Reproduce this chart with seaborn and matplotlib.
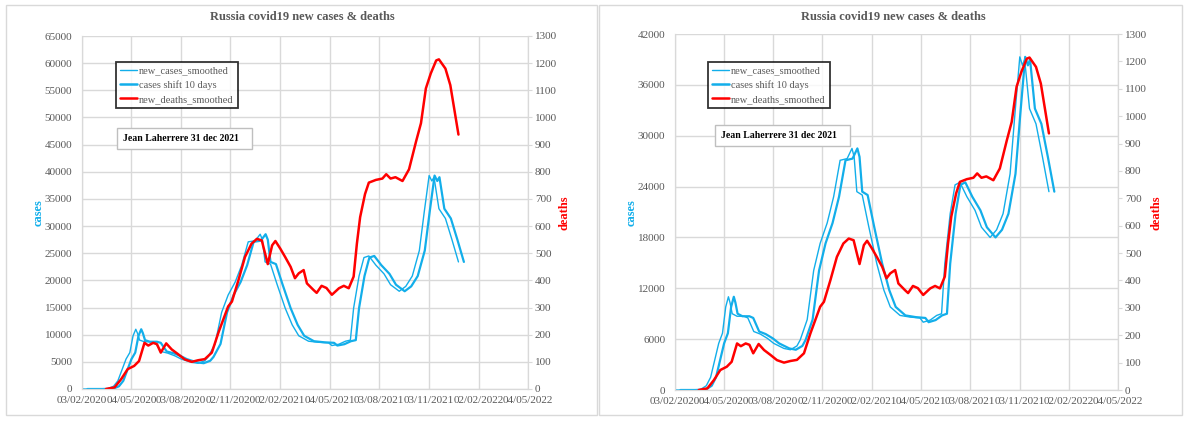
import pandas as pd
import numpy as np
import matplotlib
matplotlib.use("Agg")
import matplotlib.pyplot as plt
import matplotlib.dates as mdates
from matplotlib.patches import Rectangle
from matplotlib.lines import Line2D
import seaborn as sns

# values
case_dates = ["2020-02-03", "2020-03-01", "2020-03-21", "2020-04-01", "2020-04-09", "2020-04-18",
              "2020-04-24", "2020-05-01", "2020-05-07", "2020-05-12", "2020-05-15", "2020-05-19",
              "2020-05-28", "2020-06-10", "2020-06-17", "2020-06-28", "2020-07-10", "2020-07-23",
              "2020-08-04", "2020-08-23", "2020-09-04", "2020-09-16", "2020-09-22", "2020-10-05",
              "2020-10-17", "2020-10-29", "2020-11-11", "2020-11-23", "2020-12-05", "2020-12-18",
              "2020-12-27", "2020-12-31", "2021-01-05", "2021-01-15", "2021-01-27", "2021-02-11",
              "2021-02-24", "2021-03-08", "2021-03-26", "2021-04-14", "2021-05-02", "2021-05-08",
              "2021-05-21", "2021-06-02", "2021-06-11", "2021-06-17", "2021-06-27", "2021-07-06",
              "2021-07-15", "2021-07-28", "2021-08-12", "2021-08-24", "2021-09-09", "2021-09-21",
              "2021-10-03", "2021-10-16", "2021-10-25", "2021-11-03", "2021-11-08", "2021-11-12",
              "2021-11-21", "2021-12-03", "2021-12-15", "2021-12-27"]
new_cases = [0, 0, 50, 500, 1500, 3900,
             5500, 6700, 9800, 11000, 10300, 9000,
             8700, 8700, 8500, 6900, 6600, 6100,
             5500, 4900, 4750, 5200, 5900, 8300,
             14100, 17300, 19700, 22800, 27100, 27300,
             28500, 27500, 23400, 23000, 19300, 14900,
             11800, 9800, 8800, 8600, 8500, 8000,
             8250, 8800, 9000, 14900, 20800, 24200,
             24500, 22800, 21200, 19200, 18000, 18900,
             20800, 25500, 32600, 39300, 38300, 39000,
             33200, 31400, 27500, 23400]

death_dates = ["2020-03-18", "2020-04-03", "2020-04-15", "2020-04-27", "2020-05-09", "2020-05-18",
               "2020-05-28", "2020-06-04", "2020-06-13", "2020-06-20", "2020-06-27", "2020-07-07",
               "2020-07-17", "2020-07-29", "2020-08-10", "2020-08-23", "2020-09-04", "2020-09-16",
               "2020-09-29", "2020-10-11", "2020-10-29", "2020-11-05", "2020-11-17", "2020-11-29",
               "2020-12-11", "2020-12-21", "2020-12-30", "2021-01-05", "2021-01-10", "2021-01-18",
               "2021-01-24", "2021-02-02", "2021-02-11", "2021-02-21", "2021-03-01", "2021-03-08",
               "2021-03-17", "2021-03-23", "2021-04-04", "2021-04-10", "2021-04-19", "2021-04-28",
               "2021-05-08", "2021-05-21", "2021-05-30", "2021-06-08", "2021-06-17", "2021-06-23",
               "2021-06-29", "2021-07-08", "2021-07-15", "2021-07-28", "2021-08-09", "2021-08-16",
               "2021-08-24", "2021-09-02", "2021-09-15", "2021-09-27", "2021-10-10", "2021-10-19",
               "2021-10-28", "2021-11-06", "2021-11-16", "2021-11-21", "2021-12-03", "2021-12-12",
               "2021-12-20", "2021-12-27"]
new_deaths = [0, 6, 36, 73, 85, 103,
              170, 160, 170, 165, 134, 168,
              146, 128, 109, 100, 106, 110,
              134, 207, 304, 322, 401, 486,
              535, 553, 547, 499, 460, 529,
              545, 517, 486, 450, 408, 426,
              438, 389, 365, 354, 380, 372,
              347, 371, 380, 371, 414, 535,
              633, 718, 760, 770, 775, 791,
              775, 780, 766, 809, 912, 979,
              1107, 1162, 1210, 1214, 1180, 1119,
              1022, 937]

shift_days = 10
tick_dates = ["2020-02-03", "2020-05-04", "2020-08-03", "2020-11-02", "2021-02-02",
              "2021-05-04", "2021-08-03", "2021-11-03", "2022-02-02", "2022-05-04"]
left_max = [65000, 42000]
left_step = [5000, 6000]

cases = pd.DataFrame({"date": pd.to_datetime(case_dates), "cases": new_cases})
shifted = cases.copy()
shifted["date"] = shifted["date"] + pd.Timedelta(days=shift_days)
deaths = pd.DataFrame({"date": pd.to_datetime(death_dates), "deaths": new_deaths})
ticks = pd.to_datetime(tick_dates)

sns.set_style("white")
plt.rcParams["font.family"] = ["Liberation Serif", "DejaVu Serif"]

W, H = 1185, 421
fig = plt.figure(figsize=(W / 100, H / 100), dpi=100)

CYAN = "#12AEEA"
RED = "#FF0000"
GRAY = "#595959"
GRID = "#d9d9d9"

# panel frames
for x0, x1 in [(6, 597), (599, 1182)]:
    fig.patches.append(Rectangle((x0 / W, 1 - 415 / H), (x1 - x0) / W, 410 / H,
                                 transform=fig.transFigure, fill=False,
                                 edgecolor=GRID, linewidth=1))

panels = [
    dict(box=(82, 36, 528, 389), title_x=302, cases_x=39, deaths_x=564,
         legend=(116, 62), note=(117, 128, 252, 149)),
    dict(box=(675, 34, 1118, 390), title_x=893, cases_x=632, deaths_x=1156,
         legend=(708, 62), note=(715, 125, 850, 146)),
]

for i, p in enumerate(panels):
    x0, y0, x1, y1 = p["box"]
    ax = fig.add_axes([x0 / W, 1 - y1 / H, (x1 - x0) / W, (y1 - y0) / H])
    ax2 = ax.twinx()

    sns.lineplot(data=cases, x="date", y="cases", ax=ax, color=CYAN, linewidth=1.0, legend=False)
    sns.lineplot(data=shifted, x="date", y="cases", ax=ax, color=CYAN, linewidth=1.6, legend=False)
    sns.lineplot(data=deaths, x="date", y="deaths", ax=ax2, color=RED, linewidth=1.8, legend=False)

    ax.set_xlim(ticks[0], ticks[-1])
    ax.set_ylim(0, left_max[i])
    ax.set_yticks(np.arange(0, left_max[i] + 1, left_step[i]))
    ax2.set_ylim(0, 1300)
    ax2.set_yticks(np.arange(0, 1301, 100))
    ax.set_xticks(ticks)
    ax.xaxis.set_major_formatter(mdates.DateFormatter("%d/%m/%Y"))

    ax.grid(True, color=GRID, linewidth=1)
    ax.set_axisbelow(True)
    ax.set_xlabel("")
    ax.set_ylabel("")
    ax2.set_ylabel("")
    for a in (ax, ax2):
        for s in a.spines.values():
            s.set_color(GRID)
        a.spines["top"].set_visible(False)
    ax.tick_params(axis="both", length=0, labelsize=8, labelcolor=GRAY)
    ax.tick_params(axis="y", pad=7)
    ax.tick_params(axis="x", pad=5)
    ax2.tick_params(axis="y", length=3, color=GRID, labelsize=8, labelcolor=GRAY, pad=2)

    fig.text(p["title_x"] / W, 1 - 17 / H, "Russia covid19 new cases & deaths",
             ha="center", va="center", fontsize=9, fontweight="bold", color=GRAY)
    fig.text(p["cases_x"] / W, 1 - 213 / H, "cases", rotation=90, ha="center", va="center",
             fontsize=9, fontweight="bold", color=CYAN)
    fig.text(p["deaths_x"] / W, 1 - 213 / H, "deaths", rotation=90, ha="center", va="center",
             fontsize=9, fontweight="bold", color=RED)

    handles = [Line2D([], [], color=CYAN, linewidth=1.0),
               Line2D([], [], color=CYAN, linewidth=1.8),
               Line2D([], [], color=RED, linewidth=1.8)]
    leg = fig.legend(handles, ["new_cases_smoothed", "cases shift 10 days", "new_deaths_smoothed"],
                     loc="upper left", bbox_to_anchor=(p["legend"][0] / W, 1 - p["legend"][1] / H),
                     fontsize=7.5, frameon=True, fancybox=False, handlelength=1.6,
                     handletextpad=0.2, borderpad=0.4, labelspacing=0.45, borderaxespad=0)
    leg.get_frame().set_edgecolor("black")
    leg.get_frame().set_linewidth(1.3)
    for t in leg.get_texts():
        t.set_color(GRAY)

    nx0, ny0, nx1, ny1 = p["note"]
    fig.patches.append(Rectangle((nx0 / W, 1 - ny1 / H), (nx1 - nx0) / W, (ny1 - ny0) / H,
                                 transform=fig.transFigure, facecolor="white",
                                 edgecolor="#bfbfbf", linewidth=1, zorder=5))
    fig.text((nx0 + 6) / W, 1 - (ny0 + ny1) / 2 / H, "Jean Laherrere 31 dec 2021",
             ha="left", va="center", fontsize=7, fontweight="bold", color="black", zorder=6)

fig.savefig("out.png", dpi=100)
